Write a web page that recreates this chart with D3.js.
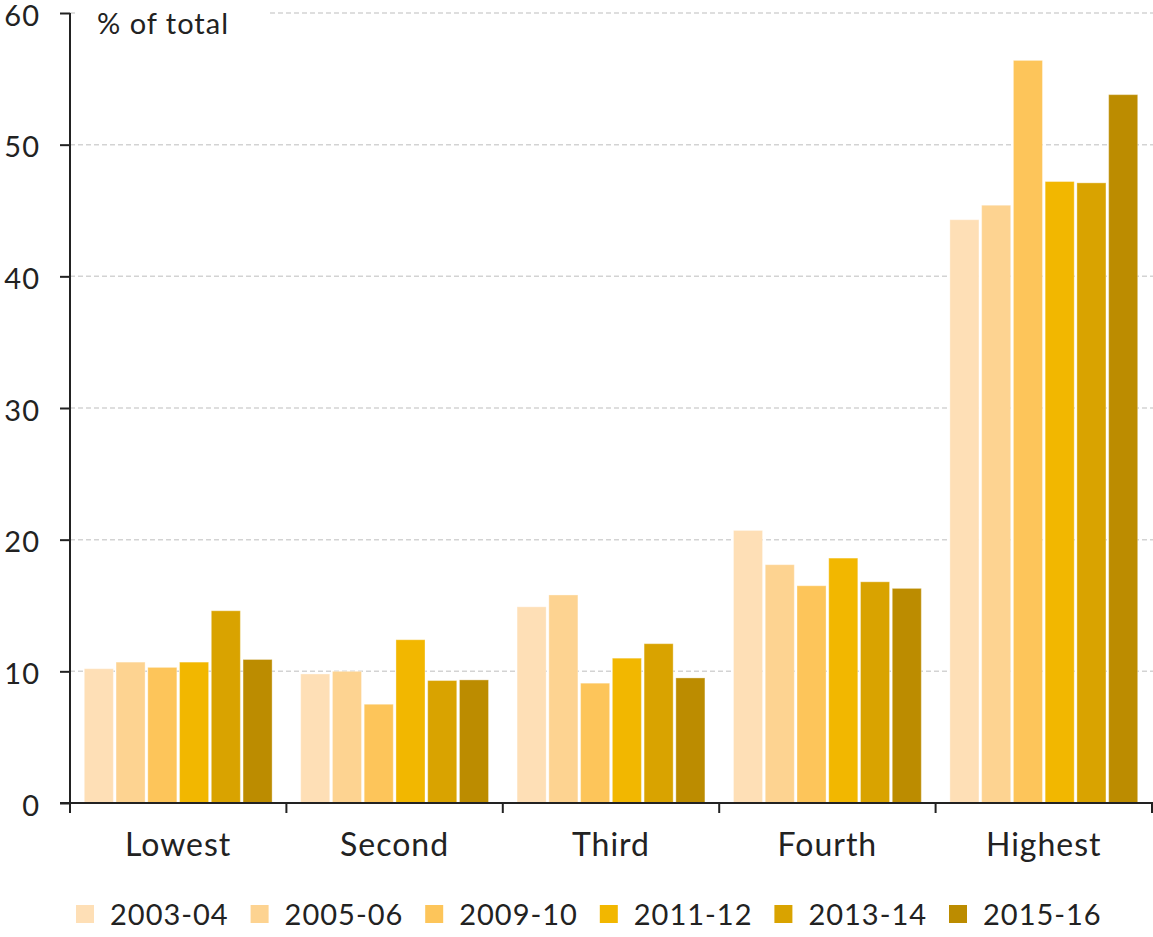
<!DOCTYPE html>
<html>
<head>
<meta charset="utf-8">
<script src="https://cdn.jsdelivr.net/npm/d3@7"></script>
<style>
  html, body { margin: 0; padding: 0; background: #fff; }
  svg { display: block; }
  text { font-family: Lato, "Open Sans", sans-serif; fill: #222; }
</style>
</head>
<body>
<svg id="chart" width="1153" height="937"></svg>
<script>
// Income quintiles and survey years
const categories = ["Lowest", "Second", "Third", "Fourth", "Highest"];
const years = ["2003-04", "2005-06", "2009-10", "2011-12", "2013-14", "2015-16"];

// Share of total (%) per year, one value per quintile
const v2003 = [10.2, 9.8, 14.9, 20.7, 44.3];
const v2005 = [10.7, 10.0, 15.8, 18.1, 45.4];
const v2009 = [10.3, 7.5, 9.1, 16.5, 56.4];
const v2011 = [10.7, 12.4, 11.0, 18.6, 47.2];
const v2013 = [14.6, 9.3, 12.1, 16.8, 47.1];
const v2015 = [10.9, 9.35, 9.5, 16.3, 53.8];
const seriesValues = [v2003, v2005, v2009, v2011, v2013, v2015];

const colors = ["#FEDFB6", "#FDD391", "#FDC55A", "#F2B700", "#D9A300", "#BC8C00"];
const yTicks = [0, 10, 20, 30, 40, 50, 60];

const svg = d3.select("#chart");
const plotLeft = 70, plotRight = 1152, plotTop = 13, plotBottom = 803;

const x0 = d3.scaleBand().domain(categories).range([plotLeft, plotRight]).padding(0);
const x1 = d3.scaleBand().domain(years).range([0, x0.bandwidth()])
  .paddingInner(0.085).paddingOuter(0.45);
const y = d3.scaleLinear().domain([0, 60]).range([plotBottom, plotTop]);

// Dashed horizontal gridlines
svg.append("g")
  .selectAll("line")
  .data(yTicks.filter(d => d > 0))
  .join("line")
  .attr("x1", plotLeft).attr("x2", 1153)
  .attr("y1", d => y(d)).attr("y2", d => y(d))
  .attr("stroke", "#d3d3d3")
  .attr("stroke-width", 1.5)
  .attr("stroke-dasharray", "5,3");

// Bars, grouped by quintile
const rows = categories.map((c, i) => ({
  cat: c,
  vals: years.map((yr, j) => ({ year: yr, value: seriesValues[j][i], color: colors[j] }))
}));

svg.append("g")
  .selectAll("g")
  .data(rows)
  .join("g")
  .attr("transform", d => `translate(${x0(d.cat)},0)`)
  .selectAll("rect")
  .data(d => d.vals)
  .join("rect")
  .attr("x", d => x1(d.year))
  .attr("width", x1.bandwidth())
  .attr("y", d => y(d.value))
  .attr("height", d => y(0) - y(d.value))
  .attr("fill", d => d.color)
  .attr("stroke", "#ffffff")
  .attr("stroke-opacity", 0.35)
  .attr("stroke-width", 1);

// Unit label with a white backing over the top gridline
const unit = svg.append("g");
unit.append("rect").attr("x", 76).attr("y", 0).attr("width", 194).attr("height", 36).attr("fill", "#fff");
unit.append("text").attr("x", 97).attr("y", 34).attr("font-size", 29)
  .attr("letter-spacing", 1).text("% of total");

// Y axis
const yAxis = d3.axisLeft(y).tickValues(yTicks).tickSize(10).tickPadding(20).tickFormat(d3.format("d"));
const gy = svg.append("g").attr("transform", `translate(${plotLeft},0)`).call(yAxis);
gy.select(".domain").remove();
gy.selectAll(".tick line").attr("stroke", "#222").attr("stroke-width", 2);
gy.selectAll(".tick text").attr("font-size", 29).attr("font-family", "Lato, sans-serif")
  .attr("fill", "#222").attr("dy", "0.42em").attr("letter-spacing", 1);
gy.append("line").attr("x1", 0).attr("x2", 0).attr("y1", plotTop).attr("y2", plotBottom + 10)
  .attr("stroke", "#222").attr("stroke-width", 2);

// X axis with ticks at group boundaries
const gx = svg.append("g").attr("transform", `translate(0,${plotBottom})`);
gx.append("line").attr("x1", 60).attr("x2", 1153).attr("y1", 0).attr("y2", 0)
  .attr("stroke", "#222").attr("stroke-width", 2);
gx.selectAll("line.bound")
  .data(categories.slice(1).map(c => x0(c)).concat([plotRight]))
  .join("line")
  .attr("class", "bound")
  .attr("x1", d => d).attr("x2", d => d)
  .attr("y1", 0).attr("y2", 10)
  .attr("stroke", "#222").attr("stroke-width", 2);
gx.selectAll("text")
  .data(categories)
  .join("text")
  .attr("x", d => x0(d) + x0.bandwidth() / 2)
  .attr("y", 53)
  .attr("text-anchor", "middle")
  .attr("font-size", 32)
  .attr("letter-spacing", 1)
  .text(d => d);

// Legend
const legend = svg.append("g").attr("transform", "translate(76,905)");
const item = legend.selectAll("g")
  .data(years)
  .join("g")
  .attr("transform", (d, i) => `translate(${i * 174.6},0)`);
item.append("rect").attr("width", 18).attr("height", 18).attr("fill", (d, i) => colors[i]);
item.append("text").attr("x", 34).attr("y", 20).attr("font-size", 29)
  .attr("letter-spacing", 1).text(d => d);
</script>
</body>
</html>
